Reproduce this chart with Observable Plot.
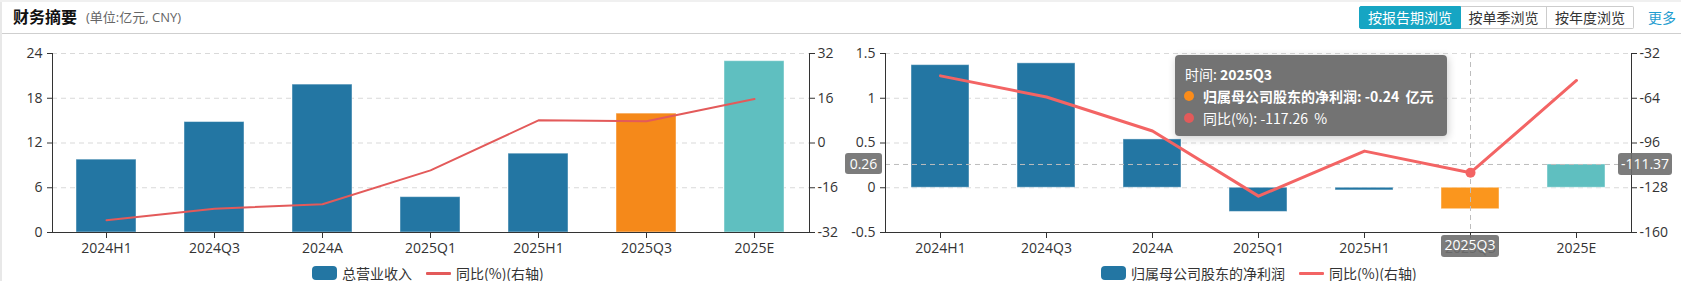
<!DOCTYPE html>
<html>
<head>
<meta charset="utf-8">
<script src="https://cdn.jsdelivr.net/npm/d3@7"></script>
<script src="https://cdn.jsdelivr.net/npm/@observablehq/plot@0.6"></script>
<style>
  html, body { margin: 0; padding: 0; background: #fff; }
  body { width: 1681px; height: 281px; overflow: hidden; position: relative;
         font-family: "Open Sans", "Noto Sans CJK SC", sans-serif; color: #333; }
  .leftbar { position: absolute; left: 0; top: 0; width: 2px; height: 281px; background: #e8e8e8; }
  .topbar { position: absolute; left: 0; top: 0; width: 1681px; height: 2px; background: #f0f0f0; }
  .header-line { position: absolute; left: 2px; top: 33px; width: 1679px; height: 1px; background: #cfcfcf; }
  .title { position: absolute; left: 13px; top: 5px; font-size: 16px; font-weight: bold; color: #111;
           font-family: "Noto Sans CJK SC", sans-serif; line-height: 22px; }
  .subtitle { position: absolute; left: 86px; top: 7px; font-size: 13px; color: #666; line-height: 20px;
              font-family: "Open Sans", "Noto Sans CJK SC", sans-serif; }
  .btns { position: absolute; left: 1359px; top: 6px; height: 23px; display: flex; }
  .btn { box-sizing: border-box; height: 23px; line-height: 21px; font-size: 14px; text-align: center;
         border: 1px solid #ccc; color: #333; font-family: "Noto Sans CJK SC", sans-serif; background: #fff; }
  .btn.sel { background: #16a5c3; color: #fff; border-color: #16a5c3; border-radius: 2px 0 0 2px; }
  .more { position: absolute; left: 1648px; top: 6px; font-size: 14px; line-height: 23px; color: #1f9dd0;
          font-family: "Noto Sans CJK SC", sans-serif; }
  .chart { position: absolute; top: 35px; }
  .legend { position: absolute; top: 264px; height: 18px; display: flex; align-items: center;
            font-size: 14px; color: #333; font-family: "Noto Sans CJK SC", sans-serif; white-space: nowrap; }
  .sw { display: inline-block; width: 25px; height: 14px; border-radius: 4px; }
  .ln { display: inline-block; width: 25px; height: 3px; border-radius: 1px; }
  .tip { position: absolute; box-sizing: border-box; background: rgba(100,100,100,0.9); border-radius: 4px;
         color: #fff; font-size: 14px; font-family: "Noto Sans CJK SC", sans-serif; padding: 8px 10px;
         box-shadow: 1px 2px 8px rgba(0,0,0,0.2); white-space: nowrap; }
  .tip div { height: 22px; line-height: 22px; display: flex; align-items: center; }
  .tip .dot { display: inline-block; width: 10px; height: 10px; border-radius: 5px; margin-right: 9px; margin-left: -1px; }
  .ptr { position: absolute; box-sizing: border-box; background: rgba(110,110,110,0.9); color: #fff;
         font-size: 14px; border-radius: 3px; text-align: center; font-family: "Open Sans", sans-serif; }
</style>
</head>
<body>
<div class="leftbar"></div>
<div class="topbar"></div>
<div class="title">财务摘要</div>
<div class="subtitle">(单位:亿元, CNY)</div>
<div class="btns">
  <div class="btn sel" style="width:102px">按报告期浏览</div>
  <div class="btn" style="width:86px;border-left:none">按单季浏览</div>
  <div class="btn" style="width:87px;border-left:none;border-radius:0 2px 2px 0">按年度浏览</div>
</div>
<div class="more">更多</div>
<div class="header-line"></div>
<div id="chartA" class="chart" style="left:0px"></div>
<div id="chartB" class="chart" style="left:840px"></div>
<div id="overlay"></div>
<script>
// ---------- data ----------
const categories = ["2024H1", "2024Q3", "2024A", "2025Q1", "2025H1", "2025Q3", "2025E"];
const revenue = [9.77, 14.81, 19.83, 4.74, 10.57, 15.94, 22.97];
const revenueYoY = [-27.6, -23.5, -21.9, -9.8, 8.1, 7.8, 15.7];
const profit = [1.37, 1.39, 0.54, -0.27, -0.03, -0.24, 0.26];
const profitYoY = [-48.0, -63.1, -87.4, -134.0, -101.8, -117.26, -51.3];
const barColorsA = ["#2376a3", "#2376a3", "#2376a3", "#2376a3", "#2376a3", "#f5891a", "#5fbfc0"];
const barColorsB = ["#2376a3", "#2376a3", "#2376a3", "#2376a3", "#2376a3", "#fb961d", "#5fbfc0"];
const leftTicksA = [0, 6, 12, 18, 24];
const rightTicksA = [-32, -16, 0, 16, 32];
const leftTicksB = [-0.5, 0, 0.5, 1, 1.5];
const rightTicksB = [-160, -128, -96, -64, -32];
const legendA = ["总营业收入", "同比(%)(右轴)"];
const legendB = ["归属母公司股东的净利润", "同比(%)(右轴)"];
const hoverCategory = "2025Q3";
const hoverValue = 0.26;
const hoverRightLabel = "-111.37";

const fmt = d => String(Math.round(d * 100) / 100);

function makeChart({el, width, marginLeft, marginRight, values, yoy, colors, leftTicks, rightTicks,
                    lineColor, lineWidth, padInner, hover}) {
  const yDomain = [leftTicks[0], leftTicks[leftTicks.length - 1]];
  const y2 = d3.scaleLinear([rightTicks[0], rightTicks[rightTicks.length - 1]], yDomain);
  const data = categories.map((c, i) => ({cat: c, val: values[i], yoy: yoy[i], color: colors[i]}));
  const marks = [
    Plot.gridY(leftTicks.slice(1), {stroke: "#d9d9d9", strokeOpacity: 1, strokeDasharray: "5,4"}),
    Plot.barY(data, {x: "cat", y: "val", fill: "color", stroke: "#ffffff", strokeOpacity: 0.45, strokeWidth: 1}),
  ];
  if (hover) {
    marks.push(Plot.ruleX([hover.cat], {stroke: "#bdbdbd", strokeDasharray: "5,4"}));
    marks.push(Plot.ruleY([hover.value], {stroke: "#bdbdbd", strokeDasharray: "5,4"}));
  }
  marks.push(
    Plot.line(data, {x: "cat", y: d => y2(d.yoy), stroke: lineColor, strokeWidth: lineWidth, curve: "linear"}),
    Plot.axisX({tickSize: 6, tickPadding: 5, stroke: "#333", fill: "#333"}),
    Plot.axisY(leftTicks, {anchor: "left", tickSize: 5, tickPadding: 5, tickFormat: fmt, stroke: "#333", fill: "#333"}),
    Plot.axisY(rightTicks.map(y2), {anchor: "right", tickSize: 5, tickPadding: 3,
      tickFormat: d => fmt(y2.invert(d)), stroke: "#333", fill: "#333"}),
    Plot.frame({anchor: "left", stroke: "#333"}),
    Plot.frame({anchor: "right", stroke: "#333"}),
    Plot.frame({anchor: "bottom", stroke: "#333"})
  );
  if (hover) {
    marks.push(Plot.dot(data.filter(d => d.cat === hover.cat), {x: "cat", y: d => y2(d.yoy), r: 5, fill: lineColor}));
  }
  const chart = Plot.plot({
    width, height: 227, marginLeft, marginRight, marginTop: 18, marginBottom: 30,
    style: {fontSize: "14px", fontFamily: "'Open Sans','Noto Sans CJK SC',sans-serif", color: "#333", background: "transparent"},
    x: {domain: categories, paddingInner: padInner, paddingOuter: padInner / 2, label: null, axis: null},
    y: {domain: yDomain, label: null, axis: null},
    marks
  });
  document.getElementById(el).appendChild(chart);
  return {chart, y2};
}

const A = makeChart({el: "chartA", width: 840, marginLeft: 52, marginRight: 31, values: revenue, yoy: revenueYoY,
  colors: barColorsA, leftTicks: leftTicksA, rightTicks: rightTicksA, lineColor: "#e35a5a", lineWidth: 2, padInner: 0.444});
const B = makeChart({el: "chartB", width: 841, marginLeft: 45, marginRight: 50, values: profit, yoy: profitYoY,
  colors: barColorsB, leftTicks: leftTicksB, rightTicks: rightTicksB, lineColor: "#f36464", lineWidth: 3, padInner: 0.45,
  hover: {cat: hoverCategory, value: hoverValue}});

// ---------- legends ----------
function legend(left, names, barColor, lineColor) {
  const d = document.createElement("div");
  d.className = "legend";
  d.style.left = left + "px";
  d.innerHTML = `<span class="sw" style="background:${barColor}"></span><span style="margin-left:5px">${names[0]}</span>` +
    `<span class="ln" style="background:${lineColor};margin-left:14px"></span><span style="margin-left:5px">${names[1]}</span>`;
  document.body.appendChild(d);
}
legend(312, legendA, "#2376a3", "#e35a5a");
legend(1101, legendB, "#2376a3", "#f36464");

// ---------- hover overlay (tooltip & axis pointer labels) ----------
const xs = B.chart.scale("x"), ys = B.chart.scale("y");
const cx = 840 + xs.apply(hoverCategory) + xs.bandwidth / 2;
const cy = 35 + ys.apply(hoverValue);
const idx = categories.indexOf(hoverCategory);
const ov = document.getElementById("overlay");
ov.innerHTML =
  `<div class="tip" style="left:${cx - 295}px;top:55px;width:272px;height:81px">` +
    `<div>时间:&nbsp;<b>${hoverCategory}</b></div>` +
    `<div><span class="dot" style="background:#fb8c1a"></span><b>归属母公司股东的净利润: ${profit[idx]}&nbsp;&nbsp;亿元</b></div>` +
    `<div><span class="dot" style="background:#e35a5a"></span>同比(%): ${profitYoY[idx]}&nbsp;&nbsp;%</div>` +
  `</div>` +
  `<div class="ptr" style="left:845px;top:${cy - 11}px;width:37px;height:21px;line-height:21px">${hoverValue}</div>` +
  `<div class="ptr" style="left:1618px;top:${cy - 11}px;width:54px;height:22px;line-height:22px">${hoverRightLabel}</div>` +
  `<div class="ptr" style="left:${cx - 29}px;top:235px;width:58px;height:22px;line-height:20px">${hoverCategory}</div>`;
</script>
</body>
</html>
